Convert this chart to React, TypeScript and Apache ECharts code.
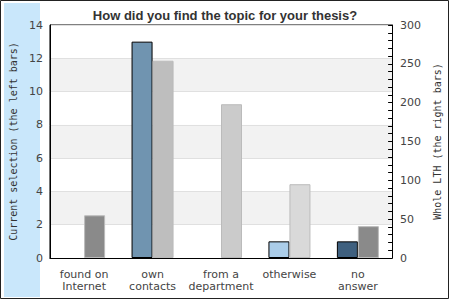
import React, { useEffect, useRef } from "react";
import * as echarts from "echarts";

const categories = ["found on\nInternet", "own\ncontacts", "from a\ndepartment", "otherwise", "no\nanswer"];
const currentValues = [0, 13, 0, 1, 1];
const currentColors = ["#7094b0", "#7094b0", "#7094b0", "#abcde9", "#3f607f"];
const lthValues = [55, 254, 198, 95, 41];
const lthColors = ["#8a8a8a", "#bebebe", "#cbcbcb", "#d9d9d9", "#8a8a8a"];
const title = "How did you find the topic for your thesis?";
const leftName = "Current selection (the left bars)";
const rightName = "Whole LTH (the right bars)";

export default function App() {
  const ref = useRef<HTMLDivElement>(null);
  useEffect(() => {
    if (!ref.current) return;
    const chart = echarts.init(ref.current, null, { renderer: "svg" });
    const tickFont = { fontFamily: "DejaVu Sans", fontSize: 11, color: "#444" };
    chart.setOption({
      animation: false,
      backgroundColor: "#fff",
      graphic: [
        { type: "rect", shape: { x: 4, y: 3, width: 36, height: 294 }, style: { fill: "#c9e7fb" }, z: -10 },
        { type: "rect", shape: { x: 0.5, y: 0.5, width: 448, height: 298 }, style: { fill: "none", stroke: "#222", lineWidth: 1 }, z: 10 },
      ],
      title: {
        text: title,
        left: "center",
        top: 4,
        textStyle: { fontFamily: "Liberation Sans", fontWeight: "bold", fontSize: 13, color: "#333" },
      },
      grid: {
        left: 40,
        right: 53,
        top: 25,
        bottom: 42,
        show: true,
        borderColor: "#000",
        borderWidth: 1,
        backgroundColor: "transparent",
      },
      xAxis: {
        type: "category",
        data: categories,
        axisLine: { show: true, lineStyle: { color: "#000" } },
        axisTick: { show: false },
        axisLabel: { ...tickFont, margin: 10, lineHeight: 12, interval: 0 },
      },
      yAxis: [
        {
          type: "value",
          min: 0,
          max: 14,
          interval: 2,
          position: "left",
          name: leftName,
          nameLocation: "middle",
          nameGap: 31,
          nameTextStyle: { fontFamily: "DejaVu Sans Mono", fontSize: 10, color: "#333" },
          axisLine: { show: true, lineStyle: { color: "#000" } },
          axisTick: { show: false },
          axisLabel: { ...tickFont, margin: 7 },
          splitLine: { show: true, lineStyle: { color: "#e0e0e0" } },
          splitArea: { show: true, areaStyle: { color: ["#ffffff", "#f2f2f2"] } },
        },
        {
          type: "value",
          min: 0,
          max: 300,
          interval: 50,
          position: "right",
          name: rightName,
          nameLocation: "middle",
          nameRotate: 90,
          nameGap: 32,
          nameTextStyle: { fontFamily: "DejaVu Sans Mono", fontSize: 10, color: "#333" },
          axisLine: { show: true, lineStyle: { color: "#000" } },
          axisTick: { show: true, inside: true, length: 4, lineStyle: { color: "#000" } },
          minorTick: { show: true, splitNumber: 5, length: 4, lineStyle: { color: "#000" } },
          axisLabel: { ...tickFont, margin: 8 },
          splitLine: { show: false },
        },
      ],
      series: [
        {
          type: "bar",
          yAxisIndex: 0,
          barWidth: 21,
          barGap: "0%",
          data: currentValues.map((v, i) => ({
            value: v,
            itemStyle: { color: currentColors[i], borderColor: "#000", borderWidth: v === 0 ? 0 : 1 },
          })),
        },
        {
          type: "bar",
          yAxisIndex: 1,
          barWidth: 21,
          data: lthValues.map((v, i) => ({
            value: v,
            itemStyle: { color: lthColors[i], borderColor: "#bbbbbb", borderWidth: v === 0 ? 0 : 1 },
          })),
        },
      ],
    });
    return () => chart.dispose();
  }, []);
  return <div ref={ref} style={{ width: 450, height: 300, position: "absolute", left: 0, top: 0 }} />;
}
